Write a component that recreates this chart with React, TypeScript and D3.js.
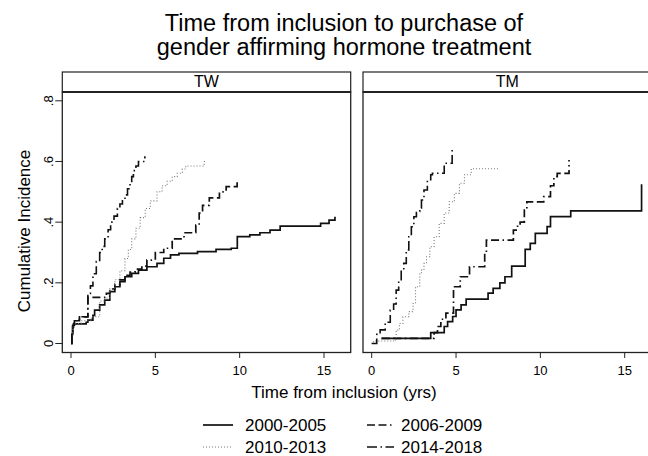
import React from 'react';
import * as d3 from 'd3';

const titleLines = ['Time from inclusion to purchase of', 'gender affirming hormone treatment'];
const panelNames = ['TW', 'TM'];
const cohorts = ['2000-2005', '2006-2009', '2010-2013', '2014-2018'];
const xTicks = [0, 5, 10, 15];
const yTicks = [0, 0.2, 0.4, 0.6, 0.8];
const yTickLabels = ['0', '.2', '.4', '.6', '.8'];

// [years, cumulative incidence]
const tw2000 = [[0, 0], [0.05, 0.03], [0.1, 0.055], [0.15, 0.065], [0.9, 0.07], [1.0, 0.077], [1.3, 0.093], [1.4, 0.11], [1.7, 0.127], [2.0, 0.143], [2.3, 0.171], [2.6, 0.187], [2.9, 0.204], [3.2, 0.22], [3.6, 0.231], [4.0, 0.242], [4.5, 0.253], [5.1, 0.264], [5.5, 0.281], [5.9, 0.292], [6.4, 0.297], [7.5, 0.303], [8.6, 0.31], [9.5, 0.314], [9.86, 0.352], [10.6, 0.358], [11.2, 0.365], [11.8, 0.374], [12.4, 0.387], [14.8, 0.396], [15.3, 0.407], [15.65, 0.418]];
const tw2006 = [[0, 0], [0.05, 0.03], [0.1, 0.06], [0.2, 0.075], [0.5, 0.088], [1.0, 0.152], [2.1, 0.165], [2.3, 0.18], [2.6, 0.195], [2.9, 0.21], [3.2, 0.225], [3.5, 0.235], [3.8, 0.245], [4.2, 0.255], [4.5, 0.275], [5.0, 0.3], [5.5, 0.314], [6.0, 0.345], [6.7, 0.365], [7.4, 0.39], [7.6, 0.43], [7.8, 0.455], [8.2, 0.48], [8.8, 0.5], [9.2, 0.517], [9.85, 0.54]];
const tw2010 = [[0, 0], [0.05, 0.03], [0.1, 0.055], [0.2, 0.066], [0.6, 0.075], [1.2, 0.088], [1.7, 0.14], [2.0, 0.15], [2.3, 0.18], [2.6, 0.21], [2.9, 0.24], [3.2, 0.28], [3.4, 0.31], [3.6, 0.345], [3.85, 0.38], [4.1, 0.415], [4.4, 0.445], [4.7, 0.47], [5.1, 0.5], [5.4, 0.52], [5.7, 0.535], [6.0, 0.55], [6.3, 0.561], [6.6, 0.575], [6.8, 0.585], [7.9, 0.6], [8.04, 0.6]];
const tw2014 = [[0, 0], [0.05, 0.03], [0.1, 0.06], [0.2, 0.075], [0.5, 0.088], [1.0, 0.165], [1.15, 0.19], [1.3, 0.23], [1.5, 0.27], [1.7, 0.3], [1.85, 0.32], [2.0, 0.345], [2.2, 0.375], [2.35, 0.4], [2.55, 0.42], [2.75, 0.445], [2.9, 0.46], [3.05, 0.475], [3.2, 0.49], [3.35, 0.51], [3.5, 0.53], [3.6, 0.55], [3.7, 0.57], [3.85, 0.585], [4.0, 0.6], [4.38, 0.617]];

const tm2000 = [[0.57, 0.017], [3.5, 0.036], [4.3, 0.056], [4.5, 0.072], [4.8, 0.089], [5.0, 0.111], [5.3, 0.127], [5.6, 0.146], [6.9, 0.166], [7.2, 0.182], [7.6, 0.2], [7.9, 0.22], [8.3, 0.255], [9.1, 0.31], [9.4, 0.33], [9.7, 0.363], [10.4, 0.385], [10.6, 0.418], [11.8, 0.437], [16.0, 0.525]];
const tm2006 = [[0.6, 0.017], [3.7, 0.036], [3.9, 0.056], [4.1, 0.08], [4.4, 0.1], [4.85, 0.187], [5.25, 0.22], [5.8, 0.253], [6.7, 0.3], [6.8, 0.341], [8.4, 0.374], [8.65, 0.39], [8.8, 0.4], [9.05, 0.44], [9.2, 0.467], [10.2, 0.484], [10.6, 0.52], [10.8, 0.55], [11.0, 0.561], [11.7, 0.605]];
const tm2010 = [[0, 0], [0.1, 0.008], [1.3, 0.012], [1.45, 0.044], [1.65, 0.066], [1.85, 0.088], [2.2, 0.105], [2.45, 0.132], [2.6, 0.187], [2.85, 0.231], [2.95, 0.242], [3.1, 0.264], [3.25, 0.286], [3.45, 0.319], [3.7, 0.352], [4.0, 0.396], [4.3, 0.43], [4.6, 0.467], [4.9, 0.495], [5.2, 0.528], [5.5, 0.556], [5.9, 0.576], [7.6, 0.576]];
const tm2014 = [[0, 0], [0.3, 0.03], [0.5, 0.045], [0.8, 0.07], [1.1, 0.11], [1.3, 0.13], [1.45, 0.176], [1.6, 0.21], [1.75, 0.242], [1.9, 0.264], [2.05, 0.308], [2.2, 0.352], [2.35, 0.385], [2.5, 0.418], [2.65, 0.435], [2.85, 0.446], [2.95, 0.473], [3.1, 0.506], [3.3, 0.54], [3.5, 0.556], [3.6, 0.561], [4.3, 0.594], [4.77, 0.644]];

const panelSeries = [
  [tw2000, tw2006, tw2010, tw2014],
  [tm2000, tm2006, tm2010, tm2014],
];

const lineStyles = [
  { stroke: '#111', width: 1.7, dash: null },
  { stroke: '#111', width: 1.7, dash: '8,3.5,8,3.5,1.5,3.5' },
  { stroke: '#777', width: 1.1, dash: '1,2' },
  { stroke: '#111', width: 1.6, dash: '10,3.5,1.5,3.5' },
];

const W = 648;
const H = 456;
const font = '"Liberation Sans", Arial, Helvetica, sans-serif';
const panelLeft = [62.3, 363];
const panelW = 288.4;
const headerTop = 72;
const plotTop = 92;
const plotBottom = 352.5;

const y = d3.scaleLinear().domain([0, 0.8]).range([343.5, 100.8]);

export default function App() {
  return (
    <svg width={W} height={H} style={{ position: 'absolute', left: 0, top: 0, background: '#fff' }} fontFamily={font}>
      <rect width={W} height={H} fill="#fff" />
      {titleLines.map((t, i) => (
        <text key={t} x={344} y={31 + i * 24} textAnchor="middle" fontSize={23.5} fill="#000">{t}</text>
      ))}

      {panelNames.map((name, p) => {
        const left = panelLeft[p];
        const x = d3.scaleLinear().domain([0, 15]).range([left + 8.7, left + 261.7]);
        const line = d3.line<number[]>().x(d => x(d[0])).y(d => y(d[1])).curve(d3.curveStepAfter);
        return (
          <g key={name}>
            <rect x={left} y={headerTop} width={panelW} height={plotTop - headerTop} fill="#fff" stroke="#222" strokeWidth={1.2} />
            <text x={left + panelW / 2} y={87} textAnchor="middle" fontSize={16} fill="#000">{name}</text>
            <rect x={left} y={plotTop} width={panelW} height={plotBottom - plotTop} fill="#fff" stroke="#222" strokeWidth={1.3} />
            <line x1={left} x2={left + panelW} y1={plotTop} y2={plotTop} stroke="#222" strokeWidth={2} />
            {panelSeries[p].map((s, i) => (
              <path key={i} d={line(s) || ''} fill="none" stroke={lineStyles[i].stroke} strokeWidth={lineStyles[i].width}
                strokeDasharray={lineStyles[i].dash || undefined} />
            ))}
            {xTicks.map(t => (
              <g key={t}>
                <line x1={x(t)} x2={x(t)} y1={plotBottom} y2={plotBottom + 5.5} stroke="#222" strokeWidth={1} />
                <text x={x(t)} y={375} textAnchor="middle" fontSize={13} fill="#000">{t}</text>
              </g>
            ))}
          </g>
        );
      })}

      {yTicks.map((t, i) => (
        <g key={t}>
          <line x1={panelLeft[0] - 7} x2={panelLeft[0]} y1={y(t)} y2={y(t)} stroke="#222" strokeWidth={1} />
          <text transform={`translate(${panelLeft[0] - 9},${y(t)}) rotate(-90)`} textAnchor="middle" fontSize={13} fill="#000">{yTickLabels[i]}</text>
        </g>
      ))}

      <text transform={`translate(30,231) rotate(-90)`} textAnchor="middle" fontSize={17} fill="#000">Cumulative Incidence</text>
      <text x={344} y={398} textAnchor="middle" fontSize={17} fill="#000">Time from inclusion (yrs)</text>

      {cohorts.map((c, i) => {
        const col = i % 2;
        const row = i < 2 ? 0 : 1;
        const sx = col === 0 ? 203 : 367;
        const ly = 425 + row * 22;
        const st = lineStyles[i];
        return (
          <g key={c}>
            <line x1={sx} x2={sx + (col === 0 ? 30 : 27)} y1={ly} y2={ly} stroke={st.stroke} strokeWidth={st.width}
              strokeDasharray={st.dash || undefined} />
            <text x={col === 0 ? 245 : 401} y={ly + 6} fontSize={17} fill="#000">{c}</text>
          </g>
        );
      })}
    </svg>
  );
}
